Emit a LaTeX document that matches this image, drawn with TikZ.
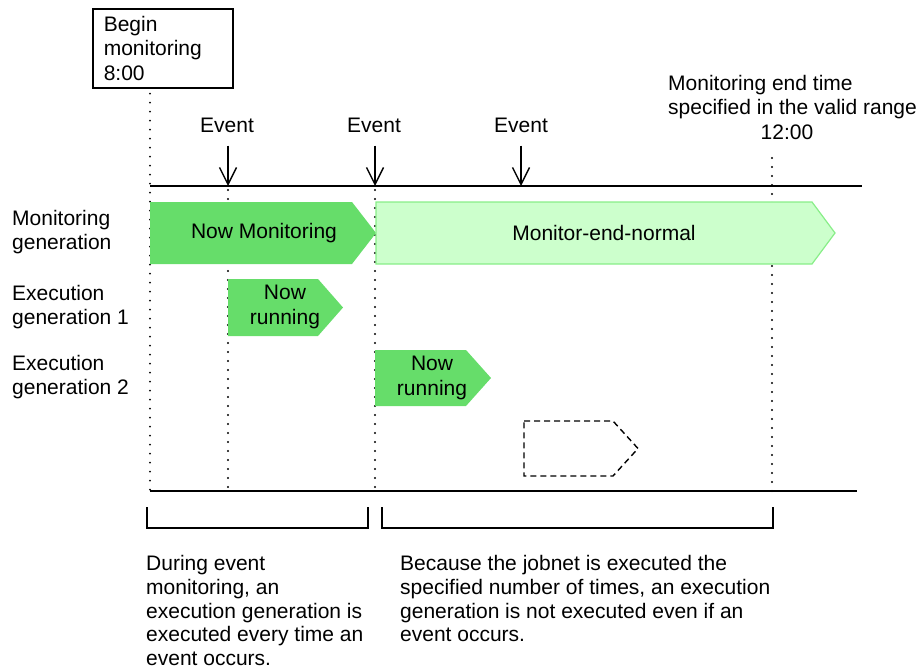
\documentclass[tikz,border=0pt]{standalone}
\usepackage{fontspec}
\setmainfont{Liberation Sans}
\usetikzlibrary{arrows.meta}

\definecolor{rungreen}{HTML}{66DD6A}
\definecolor{endfill}{HTML}{CCFFCC}
\definecolor{endline}{HTML}{88EE88}

\tikzset{
  txt/.style={font=\fontsize{21}{24.5}\selectfont, inner sep=0pt, align=left},
  note/.style={txt, font=\fontsize{21}{23.8}\selectfont, anchor=north west},
  vdots/.style={line width=2.2pt, line cap=round, dash pattern=on 0pt off 9pt},
  evarrow/.style={line width=1.4pt, -{Straight Barb[length=17pt,width=17pt,line width=1.4pt]}},
  axis/.style={line width=1.8pt},
  brace/.style={line width=1.4pt},
}

\begin{document}
\begin{tikzpicture}[x=1pt, y=-1pt]
  \useasboundingbox (0,0) rectangle (920,670);

  % time axis
  \coordinate (tl) at (150,186);
  \coordinate (tr) at (862,186);
  \coordinate (bl) at (150,491);
  \coordinate (br) at (857,491);
  \draw[axis] (tl) -- (tr);
  \draw[axis] (bl) -- (br);

  % start box
  \node[txt, draw, line width=1.6pt, anchor=north west, text width=118pt,
        inner xsep=11pt, minimum height=79pt] (begin) at (92,8)
        {Begin\\monitoring\\8:00};

  % end time
  \node[txt, anchor=north west] (endtime) at (668,75)
        {Monitoring end time\\specified in the valid range};
  \node[txt] (endclock) at (787,132) {12:00};

  % dotted time marks
  \draw[vdots] ([yshift=-5pt]begin.south -| tl) -- (bl);
  \draw[vdots] (228,190) -- (228,491);
  \draw[vdots] (375,190) -- (375,491);
  \draw[vdots] (772,158) -- (772,491);

  % events
  \node[txt] (ev1) at (227,125) {Event};
  \node[txt] (ev2) at (374,125) {Event};
  \node[txt] (ev3) at (521,125) {Event};
  \coordinate (hit1) at (228,186);
  \coordinate (hit2) at (375,186);
  \coordinate (hit3) at (521,186);
  \draw[evarrow] ([yshift=-13pt]ev1.south -| hit1) -- (hit1);
  \draw[evarrow] ([yshift=-13pt]ev2.south -| hit2) -- (hit2);
  \draw[evarrow] ([yshift=-13pt]ev3.south -| hit3) -- (hit3);

  % row labels
  \node[txt, anchor=west] (lblmon) at (12,232) {Monitoring\\generation};
  \node[txt, anchor=west] (lblexe1) at (12,307) {Execution\\generation 1};
  \node[txt, anchor=west] (lblexe2) at (12,377) {Execution\\generation 2};

  % monitoring generation
  \fill[rungreen] (150,202) -- (352,202) -- (376,233) -- (352,264) -- (150,264) -- cycle;
  \node[txt] (nowmon) at (264,233) {Now Monitoring};
  \filldraw[fill=endfill, draw=endline, line width=1.2pt]
    (376,202) -- (812,202) -- (835,233) -- (812,264) -- (376,264) -- cycle;
  \node[txt] (endnorm) at (604,233) {Monitor-end-normal};

  % execution generations
  \fill[rungreen] (228,279) -- (318,279) -- (343,307.5) -- (318,336) -- (228,336) -- cycle;
  \node[txt, align=center] (run1) at (285,307) {Now\\running};
  \fill[rungreen] (375,350) -- (466,350) -- (491,378) -- (466,406) -- (375,406) -- cycle;
  \node[txt, align=center] (run2) at (432,378) {Now\\running};
  \draw[line width=1.4pt, dash pattern=on 6pt off 4pt]
    (524,421) -- (613,421) -- (638,448.5) -- (613,476) -- (524,476) -- cycle;

  % brackets
  \draw[brace] (147,507) |- (368,528) -- (368,507);
  \draw[brace] (382,507) |- (773,528) -- (773,507);

  % notes
  \node[note] (note1) at (146,555)
        {During event\\monitoring, an\\execution generation is\\executed every time an\\event occurs.};
  \node[note] (note2) at (400,555)
        {Because the jobnet is executed the\\specified number of times, an execution\\generation is not executed even if an\\event occurs.};
\end{tikzpicture}
\end{document}
